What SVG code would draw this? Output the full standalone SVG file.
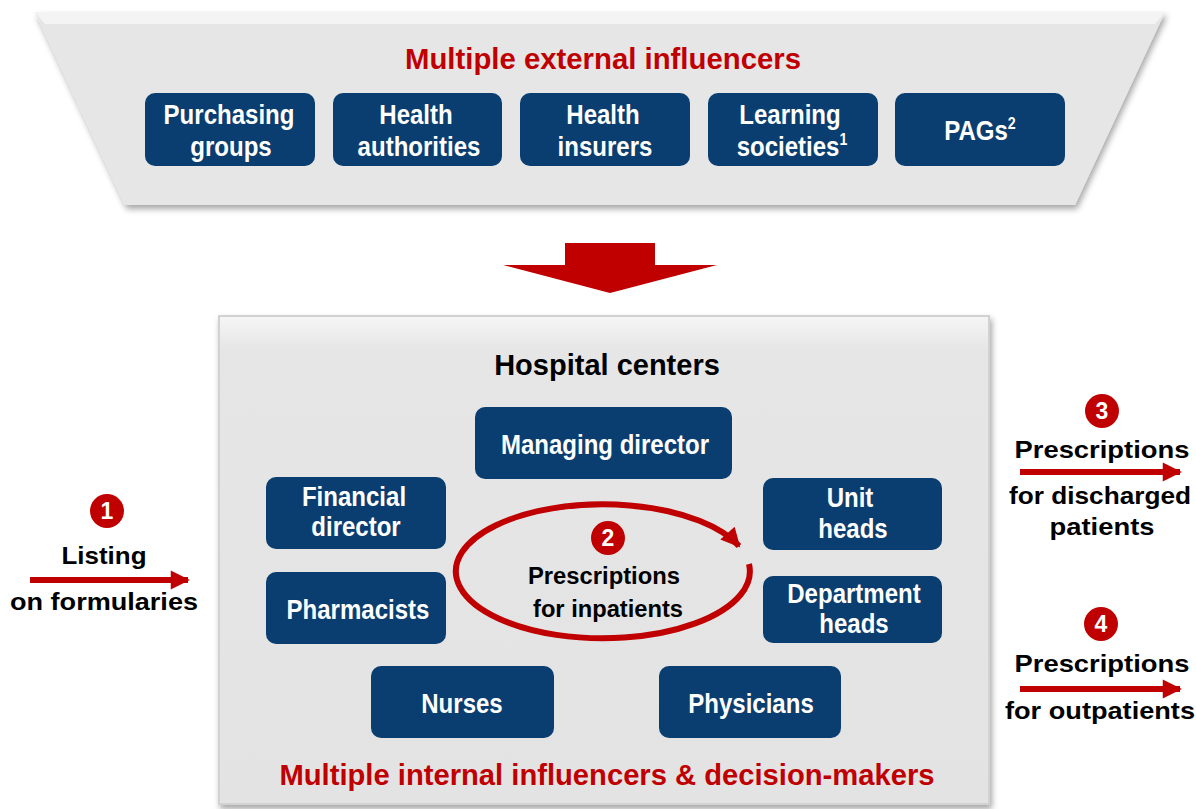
<svg xmlns="http://www.w3.org/2000/svg" width="1196" height="809" viewBox="0 0 1196 809">
<style>
.panel{fill:#e6e6e6;}
.box{fill:#0b3e70;}
.bt{font-family:"Liberation Sans",Arial,sans-serif;font-weight:bold;font-size:27px;fill:#ffffff;text-anchor:middle;}
.red{font-family:"Liberation Sans",Arial,sans-serif;font-weight:bold;font-size:30px;fill:#c00000;text-anchor:middle;}
.blk{font-family:"Liberation Sans",Arial,sans-serif;font-weight:bold;font-size:29px;fill:#000;text-anchor:middle;}
.inner{font-family:"Liberation Sans",Arial,sans-serif;font-weight:bold;font-size:23px;fill:#000;text-anchor:middle;}
.side{font-family:"Liberation Sans",Arial,sans-serif;font-weight:bold;font-size:24px;fill:#000;text-anchor:middle;}
.num{font-family:"Liberation Sans",Arial,sans-serif;font-weight:bold;font-size:23px;fill:#fff;text-anchor:middle;}
.badge{fill:#c00000;}
.arr{stroke:#c00000;stroke-width:6;fill:none;}
</style>
<defs>
<filter id="sh" x="-5%" y="-5%" width="110%" height="115%">
<feDropShadow dx="2" dy="4" stdDeviation="3" flood-color="#000" flood-opacity="0.35"/>
</filter>
<marker id="ah" viewBox="0 0 10 10" refX="9" refY="5" markerWidth="3.8" markerHeight="3.2" orient="auto" markerUnits="strokeWidth">
<path d="M0,0 L10,5 L0,10 z" fill="#c00000"/>
</marker>
<linearGradient id="bev" x1="0" y1="0" x2="0" y2="1">
<stop offset="0" stop-color="#f6f6f6"/>
<stop offset="0.07" stop-color="#e6e6e6"/>
<stop offset="1" stop-color="#e3e3e3"/>
</linearGradient>
</defs>

<g id="external-panel">
<polygon class="panel" points="35,12 1165,12 1075,205 125,205" filter="url(#sh)"/>
<polygon points="35,12 1165,12 1155,24 45,24" fill="#f4f4f4"/>
<text class="red" x="603" y="69" textLength="396" lengthAdjust="spacingAndGlyphs">Multiple external influencers</text>
</g>

<g id="purchasing-groups">
<rect class="box" x="145" y="93" width="170" height="73" rx="10"/>
<text class="bt" transform="translate(229 0) scale(0.89 1)" x="0" y="124">Purchasing</text>
<text class="bt" transform="translate(231 0) scale(0.89 1)" x="0" y="156">groups</text>
</g>
<g id="health-authorities">
<rect class="box" x="333" y="93" width="169" height="73" rx="10"/>
<text class="bt" transform="translate(416 0) scale(0.89 1)" x="0" y="124">Health</text>
<text class="bt" transform="translate(419 0) scale(0.89 1)" x="0" y="156">authorities</text>
</g>
<g id="health-insurers">
<rect class="box" x="520" y="93" width="170" height="73" rx="10"/>
<text class="bt" transform="translate(603 0) scale(0.89 1)" x="0" y="124">Health</text>
<text class="bt" transform="translate(605 0) scale(0.89 1)" x="0" y="156">insurers</text>
</g>
<g id="learning-societies">
<rect class="box" x="708" y="93" width="170" height="73" rx="10"/>
<text class="bt" transform="translate(790 0) scale(0.89 1)" x="0" y="124">Learning</text>
<text class="bt" transform="translate(792 0) scale(0.89 1)" x="0" y="156">societies<tspan font-size="16" dy="-11">1</tspan></text>
</g>
<g id="pags">
<rect class="box" x="895" y="93" width="170" height="73" rx="10"/>
<text class="bt" transform="translate(980 0) scale(0.89 1)" x="0" y="140">PAGs<tspan font-size="16" dy="-11">2</tspan></text>
</g>

<g id="down-arrow">
<polygon points="565,243 655,243 655,265 717,265 610,293 503,265 565,265" fill="#c00000"/>
</g>

<g id="hospital-panel">
<rect x="218" y="315" width="772" height="490" fill="url(#bev)" filter="url(#sh)"/>
<rect x="219" y="316" width="770" height="488" fill="none" stroke="#d2d2d2" stroke-width="2"/>
<text class="blk" x="607" y="375">Hospital centers</text>
<text class="red" x="607" y="785" textLength="655" lengthAdjust="spacingAndGlyphs">Multiple internal influencers &amp; decision-makers</text>
</g>

<g id="managing-director">
<rect class="box" x="475" y="407" width="257" height="72" rx="10"/>
<text class="bt" transform="translate(605 0) scale(0.89 1)" x="0" y="454">Managing director</text>
</g>
<g id="financial-director">
<rect class="box" x="266" y="477" width="180" height="72" rx="10"/>
<text class="bt" transform="translate(354 0) scale(0.89 1)" x="0" y="506">Financial</text>
<text class="bt" transform="translate(356 0) scale(0.89 1)" x="0" y="536">director</text>
</g>
<g id="unit-heads">
<rect class="box" x="763" y="478" width="179" height="72" rx="10"/>
<text class="bt" transform="translate(850 0) scale(0.89 1)" x="0" y="507">Unit</text>
<text class="bt" transform="translate(853 0) scale(0.89 1)" x="0" y="538">heads</text>
</g>
<g id="pharmacists">
<rect class="box" x="266" y="572" width="180" height="72" rx="10"/>
<text class="bt" transform="translate(358 0) scale(0.89 1)" x="0" y="619">Pharmacists</text>
</g>
<g id="department-heads">
<rect class="box" x="763" y="576" width="179" height="67" rx="10"/>
<text class="bt" transform="translate(854 0) scale(0.89 1)" x="0" y="603">Department</text>
<text class="bt" transform="translate(854 0) scale(0.89 1)" x="0" y="633">heads</text>
</g>
<g id="nurses">
<rect class="box" x="371" y="666" width="183" height="72" rx="10"/>
<text class="bt" transform="translate(462 0) scale(0.89 1)" x="0" y="713">Nurses</text>
</g>
<g id="physicians">
<rect class="box" x="659" y="666" width="182" height="72" rx="10"/>
<text class="bt" transform="translate(751 0) scale(0.89 1)" x="0" y="713">Physicians</text>
</g>

<g id="inpatients">
<circle class="badge" cx="608" cy="538" r="17"/>
<text class="num" x="608" y="546">2</text>
<text class="inner" x="604" y="584" textLength="152" lengthAdjust="spacingAndGlyphs">Prescriptions</text>
<text class="inner" x="608" y="617" textLength="150" lengthAdjust="spacingAndGlyphs">for inpatients</text>
</g>

<g id="listing">
<circle class="badge" cx="107" cy="511" r="17"/>
<text class="num" x="107" y="519">1</text>
<text class="side" x="104" y="564" textLength="85" lengthAdjust="spacingAndGlyphs">Listing</text>
<text class="side" x="104" y="610" textLength="188" lengthAdjust="spacingAndGlyphs">on formularies</text>
</g>
<g id="discharged">
<circle class="badge" cx="1102" cy="411" r="17"/>
<text class="num" x="1102" y="419">3</text>
<text class="side" x="1102" y="458" textLength="175" lengthAdjust="spacingAndGlyphs">Prescriptions</text>
<text class="side" x="1100" y="504" textLength="182" lengthAdjust="spacingAndGlyphs">for discharged</text>
<text class="side" x="1102" y="535" textLength="105" lengthAdjust="spacingAndGlyphs">patients</text>
</g>
<g id="outpatients">
<circle class="badge" cx="1101" cy="624" r="17"/>
<text class="num" x="1101" y="632">4</text>
<text class="side" x="1102" y="672" textLength="175" lengthAdjust="spacingAndGlyphs">Prescriptions</text>
<text class="side" x="1100" y="719" textLength="190" lengthAdjust="spacingAndGlyphs">for outpatients</text>
</g>

<g id="connectors">
<line class="arr" x1="30" y1="580" x2="188" y2="580" marker-end="url(#ah)"/>
<line class="arr" x1="1020" y1="472" x2="1180" y2="472" marker-end="url(#ah)"/>
<line class="arr" x1="1020" y1="689" x2="1180" y2="689" marker-end="url(#ah)"/>
<path class="arr" d="M749,564 A147,67 0 1 1 739,546" stroke-width="5" marker-end="url(#ah)"/>
</g>
</svg>
